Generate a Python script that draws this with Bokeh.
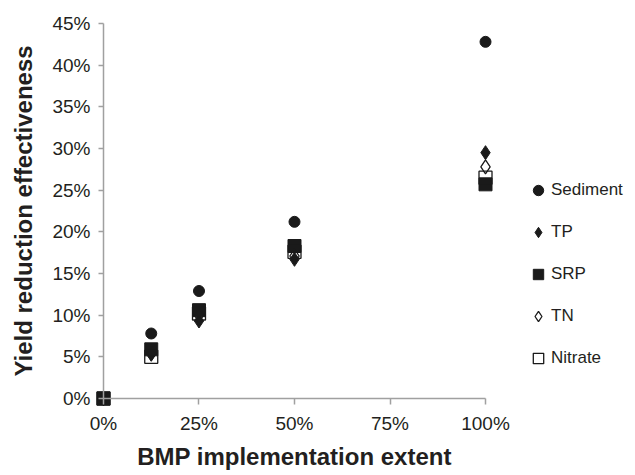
from bokeh.plotting import figure
from bokeh.models import (LinearAxis, FixedTicker, PrintfTickFormatter, Range1d,
                          Legend, LegendItem)
from bokeh.embed import file_html
from bokeh.resources import INLINE

# ---- data (percent) ----
extent = [0, 12.5, 25, 50, 100]
sediment = [0, 7.8, 12.9, 21.2, 42.8]
tp = [0, 5.3, 9.3, 16.7, 29.5]
srp = [0, 5.9, 10.6, 18.3, 25.7]
tn = [0, 5.4, 10.0, 17.1, 27.8]
nitrate = [0, 5.0, 10.2, 17.6, 26.5]

x_ticks = [0, 25, 50, 75, 100]
y_ticks = [0, 5, 10, 15, 20, 25, 30, 35, 40, 45]
series_names = ["Sediment", "TP", "SRP", "TN", "Nitrate"]

INK = "#1a1a1a"
AXIS = "#a0a0a0"
TXT = "#231f20"
FONT = "Liberation Sans"

p = figure(frame_width=627, frame_height=471,
           min_border_left=0, min_border_right=0, min_border_top=0, min_border_bottom=0,
           x_range=Range1d(-26.96, 137.17), y_range=Range1d(-8.76, 47.76),
           x_axis_type=None, y_axis_type=None,
           output_backend="svg", toolbar_location=None)
p.outline_line_color = None
p.xgrid.visible = False
p.ygrid.visible = False
p.background_fill_color = "white"
p.border_fill_color = "white"

def style_axis(ax):
    ax.axis_line_color = AXIS
    ax.axis_line_width = 1.5
    ax.major_tick_line_color = AXIS
    ax.major_tick_line_width = 1.5
    ax.minor_tick_line_color = None
    ax.major_tick_in = 0
    ax.major_label_text_font = FONT
    ax.major_label_text_font_size = "19px"
    ax.major_label_text_color = TXT
    ax.axis_label_text_font = FONT
    ax.axis_label_text_font_style = "bold"
    ax.axis_label_text_font_size = "24px"
    ax.axis_label_text_color = TXT

yax = LinearAxis(fixed_location=0, bounds=(0, 45),
                 ticker=FixedTicker(ticks=y_ticks),
                 formatter=PrintfTickFormatter(format="%d%%"),
                 axis_label="Yield reduction effectiveness")
style_axis(yax)
yax.major_tick_out = 5
yax.major_label_standoff = 8
yax.axis_label_standoff = 12
p.add_layout(yax, "left")

xax = LinearAxis(fixed_location=0, bounds=(0, 100),
                 ticker=FixedTicker(ticks=x_ticks),
                 formatter=PrintfTickFormatter(format="%d%%"),
                 axis_label="BMP implementation extent")
style_axis(xax)
xax.major_tick_out = 6
xax.major_label_standoff = 8
xax.axis_label_standoff = 6
p.add_layout(xax, "below")

r_sed = p.scatter(extent, sediment, marker="circle", size=11,
                  fill_color=INK, line_color=INK)
r_tp = p.scatter(extent, tp, marker="diamond", size=14,
                 fill_color=INK, line_color=INK)
r_srp = p.scatter(extent, srp, marker="square", size=13,
                  fill_color=INK, line_color=INK)
r_tn = p.scatter(extent, tn, marker="diamond", size=14,
                 fill_color=None, line_color=INK, line_width=1.3)
r_nit = p.scatter(extent, nitrate, marker="square", size=13,
                  fill_color=None, line_color=INK, line_width=1.3)

renderers = [r_sed, r_tp, r_srp, r_tn, r_nit]
legend = Legend(items=[LegendItem(label=n, renderers=[r]) for n, r in zip(series_names, renderers)],
                location=(525, 98), padding=0, margin=0, spacing=12,
                glyph_width=26, glyph_height=30, label_standoff=0,
                label_text_font=FONT, label_text_font_size="17px",
                label_text_color=TXT, background_fill_alpha=0,
                border_line_color=None)
p.add_layout(legend, "center")

open("out.html", "w").write(file_html(p, INLINE))
